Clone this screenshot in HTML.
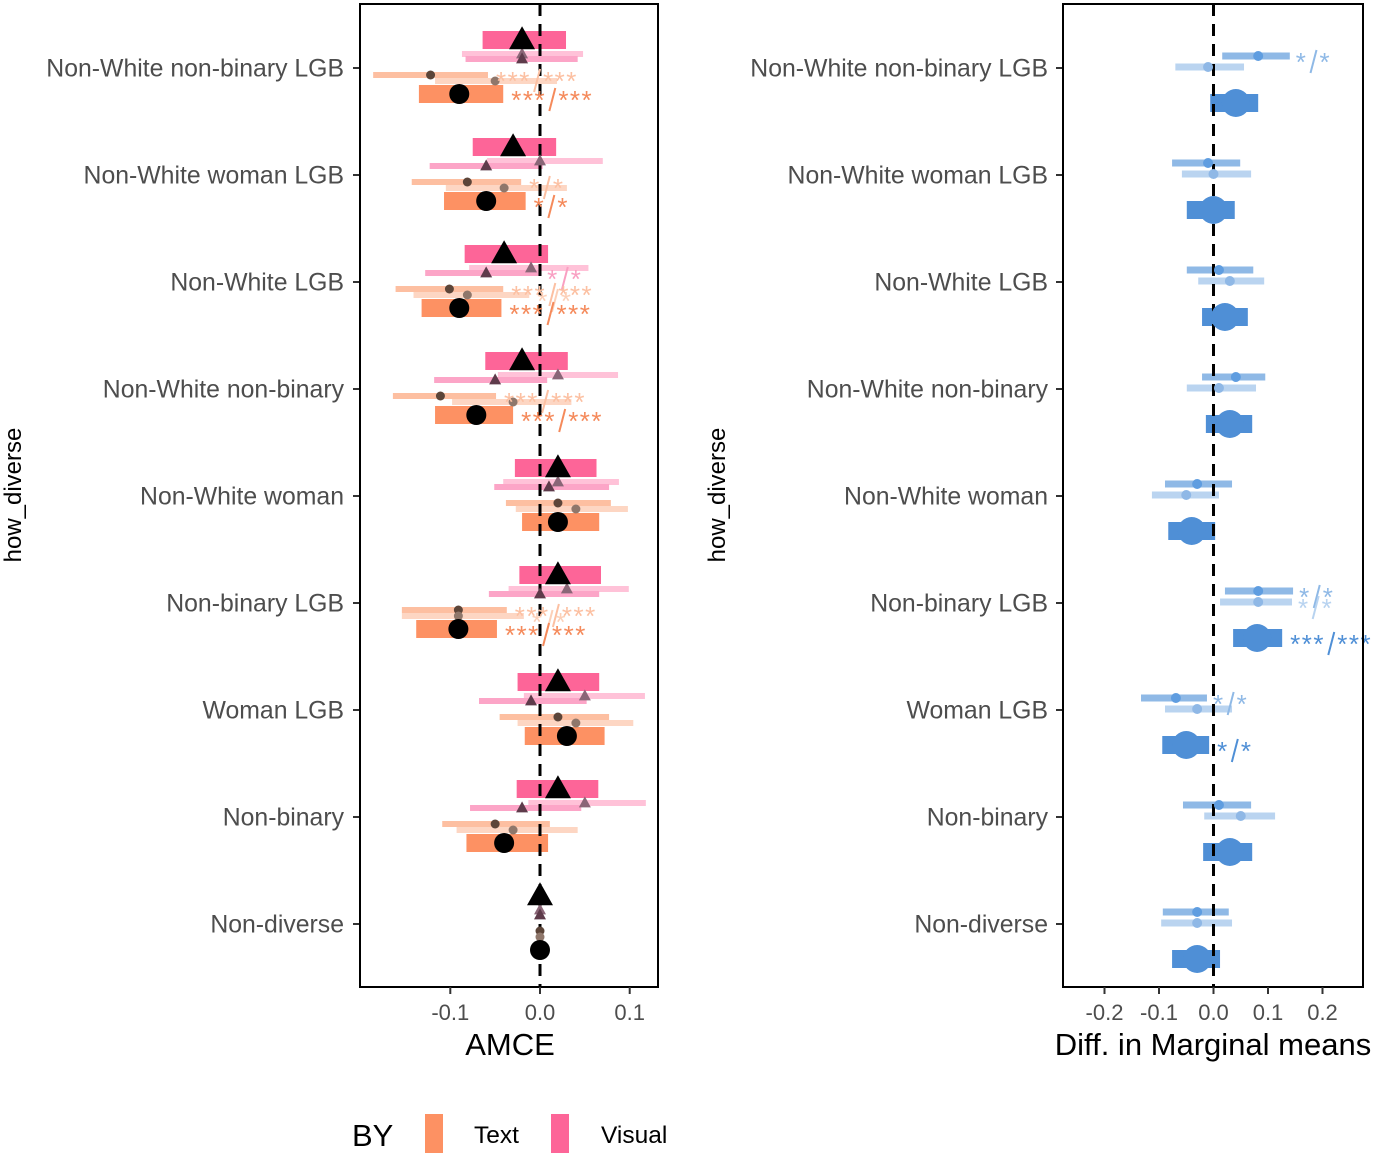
<!DOCTYPE html>
<html><head><meta charset="utf-8"><style>
html,body{margin:0;padding:0;background:#fff;}
svg{display:block;font-family:"Liberation Sans",sans-serif;}
</style></head><body>
<svg id="chart" width="1375" height="1157" viewBox="0 0 1375 1157" xmlns="http://www.w3.org/2000/svg">
<g id="left"></g>
<g id="right"></g>
<g id="legend">
  <text x="352" y="1146" font-size="31" fill="#000">BY</text>
  <rect x="425" y="1114" width="18" height="39" fill="#fd9163"/>
  <text x="474" y="1143" font-size="24.5" fill="#000">Text</text>
  <rect x="551" y="1114" width="18" height="39" fill="#fd6598"/>
  <text x="601" y="1143" font-size="24.5" fill="#000">Visual</text>
</g>
</svg>
<script>
const categories = ["Non-White non-binary LGB","Non-White woman LGB","Non-White LGB","Non-White non-binary","Non-White woman","Non-binary LGB","Woman LGB","Non-binary","Non-diverse"];
// left panel: [estimate, lower, upper]
const visMain = [[-0.020,-0.064,0.029],[-0.030,-0.075,0.018],[-0.040,-0.084,0.009],[-0.020,-0.061,0.031],[0.020,-0.028,0.063],[0.020,-0.023,0.068],[0.020,-0.025,0.066],[0.020,-0.026,0.065],[0,0,0]];
const visA = [[-0.020,-0.087,0.048],[0.000,-0.059,0.070],[-0.010,-0.079,0.054],[0.020,-0.047,0.087],[0.020,-0.041,0.088],[0.030,-0.035,0.099],[0.050,-0.018,0.117],[0.050,-0.013,0.118],[0,0,0]];
const visB = [[-0.020,-0.083,0.042],[-0.060,-0.123,0.003],[-0.060,-0.128,-0.001],[-0.050,-0.118,0.008],[0.010,-0.051,0.077],[0.000,-0.057,0.066],[-0.010,-0.068,0.052],[-0.020,-0.078,0.046],[0,0,0]];
const txtA = [[-0.122,-0.186,-0.058],[-0.081,-0.143,-0.021],[-0.101,-0.161,-0.041],[-0.111,-0.164,-0.049],[0.020,-0.038,0.079],[-0.091,-0.154,-0.037],[0.020,-0.045,0.077],[-0.050,-0.109,0.011],[0,0,0]];
const txtB = [[-0.050,-0.117,0.019],[-0.040,-0.105,0.030],[-0.081,-0.141,-0.012],[-0.030,-0.098,0.035],[0.040,-0.027,0.098],[-0.091,-0.154,-0.018],[0.040,-0.025,0.104],[-0.030,-0.093,0.042],[0,0,0]];
const txtMain = [[-0.090,-0.135,-0.041],[-0.060,-0.107,-0.016],[-0.090,-0.132,-0.043],[-0.071,-0.117,-0.030],[0.020,-0.020,0.066],[-0.091,-0.138,-0.048],[0.030,-0.017,0.072],[-0.040,-0.082,0.009],[0,0,0]];
const visBSig = ["","","*/*","","","","","",""];
const txtASig = ["***/***","*/*","***/***","***/***","","***/***","","",""];
const txtBSig = ["","","*/*","","","*/*","","",""];
const txtMainSig = ["***/***","*/*","***/***","***/***","","***/***","","",""];
// right panel: [estimate, lower, upper]
const mmA = [[0.082,0.016,0.140],[-0.010,-0.076,0.049],[0.010,-0.049,0.073],[0.041,-0.021,0.095],[-0.030,-0.089,0.034],[0.082,0.021,0.146],[-0.069,-0.133,-0.012],[0.010,-0.056,0.069],[-0.030,-0.093,0.028]];
const mmB = [[-0.010,-0.070,0.056],[0.000,-0.058,0.069],[0.030,-0.028,0.093],[0.010,-0.049,0.078],[-0.050,-0.113,0.010],[0.082,0.012,0.144],[-0.030,-0.089,0.034],[0.050,-0.017,0.113],[-0.030,-0.096,0.034]];
const mmMain = [[0.041,-0.006,0.082],[0.000,-0.049,0.039],[0.021,-0.021,0.063],[0.030,-0.014,0.071],[-0.040,-0.083,0.003],[0.080,0.036,0.126],[-0.050,-0.094,-0.008],[0.030,-0.019,0.071],[-0.030,-0.076,0.012]];
const mmASig = ["*/*","","","","","*/*","*/*","",""];
const mmBSig = ["","","","","","*/*","","",""];
const mmMainSig = ["","","","","","***/***","*/*","",""];
const leftTicks = [-0.1,0.0,0.1];
const leftTickLabels = ["-0.1","0.0","0.1"];
const rightTicks = [-0.2,-0.1,0.0,0.1,0.2];
const rightTickLabels = ["-0.2","-0.1","0.0","0.1","0.2"];

const NS="http://www.w3.org/2000/svg";
function mk(parent,tag,attrs){const e=document.createElementNS(NS,tag);for(const k in attrs)e.setAttribute(k,attrs[k]);parent.appendChild(e);return e;}
const xL=v=>540+v*897, xR=v=>1213.5+v*545, yC=i=>68+i*107;
const L=document.getElementById('left'), R=document.getElementById('right');

function stars(g,x,yc,label,color,name){
  if(!label)return;
  const parts=label.split('/');
  const t1=mk(g,'text',{x:x,y:yc+15,'font-size':26,fill:color,'letter-spacing':1.5});
  t1.textContent=parts[0];
  
  
  const w=parts[0].length*11.7;
  const sl=mk(g,'line',{x1:x+w+9,y1:yc-6,x2:x+w+3,y2:yc+17,stroke:color,'stroke-width':2});
  
  
  const t2=mk(g,'text',{x:x+w+12,y:yc+15,'font-size':26,fill:color,'letter-spacing':1.5});
  t2.textContent=parts[1];
  
  
}
function tri(g,cx,cy,w,h,color,name){
  const p=mk(g,'polygon',{points:`${cx},${cy-h*0.6} ${cx-w/2},${cy+h*0.4} ${cx+w/2},${cy+h*0.4}`,fill:color});
  
  
}
function bar(g,x1,x2,cy,h,color,name){
  const r=mk(g,'rect',{x:Math.min(x1,x2),y:cy-h/2,width:Math.abs(x2-x1),height:h,fill:color});
  
  
}
function dot(g,cx,cy,r,color,name){
  const c=mk(g,'circle',{cx:cx,cy:cy,r:r,fill:color});
  
  
}

// LEFT PANEL
categories.forEach((c,i)=>{
  const y=yC(i);
  bar(L,xL(visMain[i][1]),xL(visMain[i][2]),y-28,18,'#fd6598','visual-ci-bar');
  bar(L,xL(visA[i][1]),xL(visA[i][2]),y-14,6,'#ffc2d8','visual-subgroup-a-bar');
  bar(L,xL(visB[i][1]),xL(visB[i][2]),y-9,6,'#fca5c7','visual-subgroup-b-bar');
  bar(L,xL(txtA[i][1]),xL(txtA[i][2]),y+7,6,'#fdbfa1','text-subgroup-a-bar');
  bar(L,xL(txtB[i][1]),xL(txtB[i][2]),y+13,6,'#fdd6c3','text-subgroup-b-bar');
  bar(L,xL(txtMain[i][1]),xL(txtMain[i][2]),y+26,18,'#fd9163','text-ci-bar');
});
const zl=mk(L,'line',{x1:540,y1:4,x2:540,y2:987,stroke:'#000','stroke-width':3,'stroke-dasharray':'12,8'});


categories.forEach((c,i)=>{
  const y=yC(i);
  tri(L,xL(visA[i][0]),y-14,12,11,'#8a6677','visual-subgroup-a-point');
  tri(L,xL(visB[i][0]),y-9,12,11,'#5e3b4b','visual-subgroup-b-point');
  tri(L,xL(visMain[i][0]),y-28,26,23,'#000','visual-estimate-point');
  dot(L,xL(txtA[i][0]),y+7,4.5,'#5c4539','text-subgroup-a-point');
  dot(L,xL(txtB[i][0]),y+13,4.5,'#8f776b','text-subgroup-b-point');
  dot(L,xL(txtMain[i][0]),y+26,10,'#000','text-estimate-point');
  stars(L,xL(visB[i][2])+8,y-9,visBSig[i],'#f99fc2','visual-subgroup-b');
  stars(L,xL(txtA[i][2])+8,y+7,txtASig[i],'#fcc0a2','text-subgroup-a');
  stars(L,xL(txtB[i][2])+8,y+13,txtBSig[i],'#fcd0b8','text-subgroup-b');
  stars(L,xL(txtMain[i][2])+8,y+26,txtMainSig[i],'#f58a5b','text-estimate');
  const tk=mk(L,'line',{x1:353,y1:y,x2:360,y2:y,stroke:'#333','stroke-width':2});
  
  
  const lb=mk(L,'text',{x:344,y:y+8.5,'font-size':24.8,fill:'#4d4d4d','text-anchor':'end'});
  lb.textContent=c;
  
  
});
const lbox=mk(L,'rect',{x:360,y:4,width:298,height:983,fill:'none',stroke:'#000','stroke-width':2});


leftTicks.forEach((t,k)=>{
  const tk=mk(L,'line',{x1:xL(t),y1:987,x2:xL(t),y2:994,stroke:'#333','stroke-width':2});
  
  
  const lb=mk(L,'text',{x:xL(t),y:1020,'font-size':22,fill:'#4d4d4d','text-anchor':'middle'});
  lb.textContent=leftTickLabels[k];
  
  
});
const lxt=mk(L,'text',{x:510,y:1055,'font-size':31,fill:'#000','text-anchor':'middle'});
lxt.textContent='AMCE';


const lyt=mk(L,'text',{x:0,y:0,'font-size':24,fill:'#000','text-anchor':'middle',transform:'translate(21,495) rotate(-90)'});
lyt.textContent='how_diverse';



// RIGHT PANEL
categories.forEach((c,i)=>{
  const y=yC(i);
  bar(R,xR(mmA[i][1]),xR(mmA[i][2]),y-12,7,'#8fb9e6','subgroup-a-bar');
  bar(R,xR(mmB[i][1]),xR(mmB[i][2]),y-1,7,'#bad4f0','subgroup-b-bar');
  bar(R,xR(mmMain[i][1]),xR(mmMain[i][2]),y+35,18,'#4f8fd6','estimate-ci-bar');
});
const zr=mk(R,'line',{x1:1213.5,y1:4,x2:1213.5,y2:987,stroke:'#000','stroke-width':3,'stroke-dasharray':'12,8'});


categories.forEach((c,i)=>{
  const y=yC(i);
  dot(R,xR(mmA[i][0]),y-12,5,'#5f9de0','subgroup-a-point');
  dot(R,xR(mmB[i][0]),y-1,5,'#8fb8e6','subgroup-b-point');
  dot(R,xR(mmMain[i][0]),y+35,14,'#4f8fd6','estimate-point');
  stars(R,xR(mmA[i][2])+6,y-12,mmASig[i],'#8fb9e6','subgroup-a');
  stars(R,xR(mmB[i][2])+6,y-1,mmBSig[i],'#b8d3f0','subgroup-b');
  stars(R,xR(mmMain[i][2])+8,y+35,mmMainSig[i],'#4f8fd6','estimate');
  const tk=mk(R,'line',{x1:1056,y1:y,x2:1063,y2:y,stroke:'#333','stroke-width':2});
  
  
  const lb=mk(R,'text',{x:1048,y:y+8.5,'font-size':24.8,fill:'#4d4d4d','text-anchor':'end'});
  lb.textContent=c;
  
  
});
const rbox=mk(R,'rect',{x:1063,y:4,width:300,height:983,fill:'none',stroke:'#000','stroke-width':2});


rightTicks.forEach((t,k)=>{
  const tk=mk(R,'line',{x1:xR(t),y1:987,x2:xR(t),y2:994,stroke:'#333','stroke-width':2});
  
  
  const lb=mk(R,'text',{x:xR(t),y:1020,'font-size':22,fill:'#4d4d4d','text-anchor':'middle'});
  lb.textContent=rightTickLabels[k];
  
  
});
const rxt=mk(R,'text',{x:1213,y:1055,'font-size':31,fill:'#000','text-anchor':'middle'});
rxt.textContent='Diff. in Marginal means';


const ryt=mk(R,'text',{x:0,y:0,'font-size':24,fill:'#000','text-anchor':'middle',transform:'translate(725,495) rotate(-90)'});
ryt.textContent='how_diverse';


</script>
</body></html>
